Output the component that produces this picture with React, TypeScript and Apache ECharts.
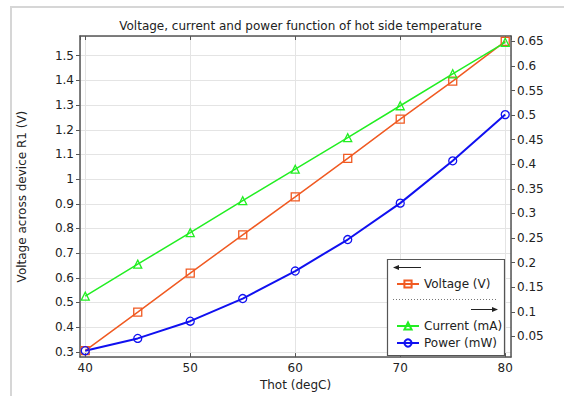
import React, { useEffect, useRef } from 'react';
import * as echarts from 'echarts';

const FONT = '"DejaVu Sans", "Liberation Sans", sans-serif';

const thot = [40, 45, 50, 55, 60, 65, 70, 75, 80];
const voltage = [0.305, 0.461, 0.619, 0.774, 0.928, 1.084, 1.243, 1.397, 1.558];
const current = [0.132, 0.197, 0.261, 0.326, 0.39, 0.454, 0.519, 0.584, 0.648];
const power = [0.021, 0.046, 0.081, 0.127, 0.183, 0.247, 0.321, 0.407, 0.501];

const xTicks = [40, 50, 60, 70, 80];
const leftTicks = [0.3, 0.4, 0.5, 0.6, 0.7, 0.8, 0.9, 1, 1.1, 1.2, 1.3, 1.4, 1.5];
const rightTicks = [0.05, 0.1, 0.15, 0.2, 0.25, 0.3, 0.35, 0.4, 0.45, 0.5, 0.55, 0.6, 0.65];

const ORANGE = '#f05a22';
const GREEN = '#22ee22';
const BLUE = '#1010f0';
const SPINE = '#555555';
const TEXT = '#222222';

const isTick = (list: number[], v: number) => list.some((t) => Math.abs(t - v) < 1e-6);
const fmt = (list: number[]) => (v: number) => (isTick(list, v) ? String(+v.toFixed(3)) : '');

export default function App() {
  const ref = useRef<HTMLDivElement>(null);
  useEffect(() => {
    if (!ref.current) return;
    const chart = echarts.init(ref.current, undefined, { renderer: 'svg' });
    const labelStyle = { fontFamily: FONT, fontSize: 12, color: TEXT };
    const mk = (name: string, ys: number[], color: string, symbol: string, yIdx: number, width: number, size: number) => ({
      name,
      type: 'line',
      xAxisIndex: 0,
      yAxisIndex: yIdx,
      data: thot.map((x, i) => [x, ys[i]]),
      symbol,
      symbolSize: size,
      showAllSymbol: true,
      color,
      lineStyle: { color, width },
      itemStyle: { color: 'rgba(255,255,255,0)', borderColor: color, borderWidth: 1.3 },
      z: 5,
    });
    chart.setOption({
      animation: false,
      backgroundColor: '#ffffff',
      title: {
        text: 'Voltage, current and power function of hot side temperature',
        left: 295.5,
        top: 15,
        textAlign: 'center',
        textStyle: { fontFamily: FONT, fontSize: 12, fontWeight: 'normal', color: TEXT },
      },
      grid: { left: 80, right: 53, top: 36, bottom: 32 },
      xAxis: [
        {
          type: 'value',
          min: 39.5,
          max: 80.55,
          minInterval: 10,
          maxInterval: 10,
          name: 'Thot (degC)',
          nameLocation: 'middle',
          nameGap: 16,
          nameTextStyle: labelStyle,
          axisLine: { show: true, onZero: false, lineStyle: { color: SPINE, width: 1.5 } },
          axisTick: { show: true, inside: true, length: 4, lineStyle: { color: SPINE } },
          axisLabel: { ...labelStyle, margin: 5, showMinLabel: false, showMaxLabel: false, formatter: fmt(xTicks) },
          splitLine: { show: true, lineStyle: { color: '#e4e4e4', width: 1 } },
        },
        {
          type: 'value',
          position: 'top',
          min: 39.5,
          max: 80.55,
          minInterval: 10,
          maxInterval: 10,
          axisLine: { show: true, onZero: false, lineStyle: { color: SPINE, width: 1.5 } },
          axisTick: { show: true, inside: true, length: 4, lineStyle: { color: SPINE } },
          axisLabel: { show: false },
          splitLine: { show: false },
        },
      ],
      yAxis: [
        {
          type: 'value',
          min: 0.2786,
          max: 1.58,
          minInterval: 0.1,
          maxInterval: 0.1,
          name: 'Voltage across device R1 (V)',
          nameLocation: 'middle',
          nameGap: 52,
          nameTextStyle: labelStyle,
          axisLine: { show: true, onZero: false, lineStyle: { color: SPINE, width: 1.5 } },
          axisTick: { show: true, inside: false, length: 4, lineStyle: { color: SPINE } },
          axisLabel: { ...labelStyle, margin: 6, showMinLabel: false, showMaxLabel: false, formatter: fmt(leftTicks) },
          splitLine: { show: true, lineStyle: { color: '#e4e4e4', width: 1 } },
        },
        {
          type: 'value',
          position: 'right',
          min: 0.008,
          max: 0.6608,
          minInterval: 0.05,
          maxInterval: 0.05,
          axisLine: { show: true, onZero: false, lineStyle: { color: SPINE, width: 1.5 } },
          axisTick: { show: true, inside: false, length: 4, lineStyle: { color: SPINE } },
          axisLabel: { ...labelStyle, margin: 6, showMinLabel: false, showMaxLabel: false, formatter: fmt(rightTicks) },
          splitLine: { show: false },
        },
      ],
      legend: [
        {
          data: ['Voltage (V)'],
          orient: 'vertical',
          left: 391,
          top: 273,
          itemWidth: 22,
          itemHeight: 9,
          itemGap: 5,
          selectedMode: false,
          textStyle: labelStyle,
        },
        {
          data: ['Current (mA)', 'Power (mW)'],
          orient: 'vertical',
          left: 391,
          top: 315,
          itemWidth: 22,
          itemHeight: 9,
          itemGap: 5,
          selectedMode: false,
          textStyle: labelStyle,
        },
      ],
      graphic: [
        {
          type: 'rect',
          shape: { x: 11, y: 7, width: 600, height: 420 },
          style: { fill: 'none', stroke: '#d6d6d6', lineWidth: 2 },
          z: 1,
          silent: true,
        },
        {
          type: 'rect',
          shape: { x: 387.5, y: 259.5, width: 117, height: 96 },
          style: { fill: '#ffffff', stroke: '#555555', lineWidth: 1.2 },
          z: 3,
          silent: true,
        },
        {
          type: 'line',
          shape: { x1: 396, y1: 267.5, x2: 421, y2: 267.5 },
          style: { stroke: '#222', lineWidth: 1 },
          z: 4,
        },
        {
          type: 'polygon',
          shape: { points: [[393, 267.5], [399, 265], [399, 270]] },
          style: { fill: '#222' },
          z: 4,
        },
        {
          type: 'line',
          shape: { x1: 393, y1: 299.5, x2: 498, y2: 299.5 },
          style: { stroke: '#777', lineWidth: 1, lineDash: [1, 2] },
          z: 4,
        },
        {
          type: 'line',
          shape: { x1: 471, y1: 309.5, x2: 495, y2: 309.5 },
          style: { stroke: '#222', lineWidth: 1 },
          z: 4,
        },
        {
          type: 'polygon',
          shape: { points: [[498, 309.5], [492, 307], [492, 312]] },
          style: { fill: '#222' },
          z: 4,
        },
      ],
      series: [
        mk('Voltage (V)', voltage, ORANGE, 'rect', 0, 1.5, 8),
        mk('Current (mA)', current, GREEN, 'triangle', 1, 1.5, 8),
        mk('Power (mW)', power, BLUE, 'circle', 1, 2, 8),
      ],
    });
    return () => chart.dispose();
  }, []);
  return <div ref={ref} style={{ position: 'fixed', left: 0, top: 0, width: 564, height: 396 }} />;
}
